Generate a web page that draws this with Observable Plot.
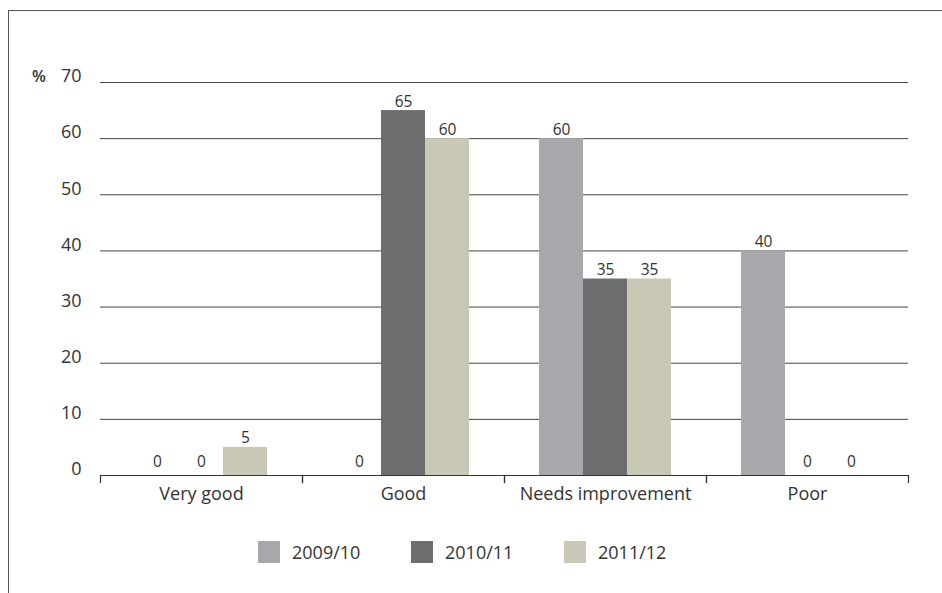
<!DOCTYPE html>
<html>
<head>
<meta charset="utf-8">
<script src="https://cdn.jsdelivr.net/npm/d3@7"></script>
<script src="https://cdn.jsdelivr.net/npm/@observablehq/plot@0.6"></script>
<style>
  body { margin: 0; background: #fff; font-family: "Open Sans", sans-serif; color: #333; }
  #wrap { position: relative; width: 942px; height: 593px; overflow: hidden; }
  #border { position: absolute; left: 8px; top: 10px; right: -5px; bottom: -5px; border-left: 1.5px solid #555; border-top: 1.5px solid #555; }
  #chart { position: absolute; left: 0; top: 0; }
  #pct { position: absolute; left: 32px; top: 65px; font-size: 16px; font-weight: 600; color: #333; }
  #legend { position: absolute; top: 540px; left: 258px; display: flex; }
  .item { display: flex; align-items: center; width: 153px; font-size: 18px; color: #333; }
  .sw { width: 22px; height: 22px; margin-right: 12px; flex: none; }
</style>
</head>
<body>
<div id="wrap">
  <div id="border"></div>
  <div id="chart"></div>
  <div id="pct">%</div>
  <div id="legend"></div>
</div>
<script>
const categories = ["Very good", "Good", "Needs improvement", "Poor"];
const series = ["2009/10", "2010/11", "2011/12"];
const values2009 = [0, 0, 60, 40];
const values2010 = [0, 65, 35, 0];
const values2011 = [5, 60, 35, 0];
const yTicks = [0, 10, 20, 30, 40, 50, 60, 70];
const colors = ["#a7a8ac", "#6d6e70", "#c9c7b5"];

const seriesValues = [values2009, values2010, values2011];
const data = [];
categories.forEach((c, i) => {
  series.forEach((s, j) => {
    data.push({category: c, series: s, value: seriesValues[j][i]});
  });
});

const width = 942, height = 515;
const marginTop = 82, marginBottom = 40;
const plotH = height - marginTop - marginBottom;

const chart = Plot.plot({
  width, height,
  marginLeft: 100, marginRight: 34, marginTop, marginBottom,
  style: {fontFamily: "Open Sans, sans-serif", color: "#333", background: "transparent"},
  fx: {domain: categories, padding: 0, label: null},
  x: {domain: series, paddingInner: 0, paddingOuter: 0.795, axis: null},
  y: {domain: [0, 70], label: null},
  color: {domain: series, range: colors},
  marks: [
    Plot.ruleY(yTicks.filter(d => d > 0), {stroke: "#444", strokeWidth: 1}),
    Plot.barY(data, {fx: "category", x: "series", y: "value", fill: "series"}),
    Plot.ruleY([0], {stroke: "#333", strokeWidth: 1.2}),
    Plot.frame({anchor: "left", insetTop: plotH, insetBottom: -7, stroke: "#333", strokeWidth: 1.2}),
    Plot.frame({anchor: "right", insetTop: plotH, insetBottom: -7, stroke: "#333", strokeWidth: 1.2}),
    Plot.text(data.filter(d => d.value > 0), {fx: "category", x: "series", y: "value", text: d => String(d.value), lineAnchor: "bottom", dy: -4, fontSize: 15.5, fill: "#333"}),
    Plot.text(data.filter(d => d.value === 0), {fx: "category", x: "series", y: "value", text: d => String(d.value), lineAnchor: "bottom", dy: -9, fontSize: 15.5, fill: "#333"}),
    Plot.axisY({ticks: yTicks, tickSize: 0, tickPadding: 19, dy: -6, fontSize: 18, label: null}),
    Plot.axisFx({anchor: "bottom", tickSize: 0, tickPadding: 12, fontSize: 18, label: null})
  ]
});
document.getElementById("chart").appendChild(chart);

const legend = document.getElementById("legend");
series.forEach((s, i) => {
  const item = document.createElement("div");
  item.className = "item";
  const sw = document.createElement("div");
  sw.className = "sw";
  sw.style.background = colors[i];
  const t = document.createElement("span");
  t.textContent = s;
  item.appendChild(sw);
  item.appendChild(t);
  legend.appendChild(item);
});
</script>
</body>
</html>
